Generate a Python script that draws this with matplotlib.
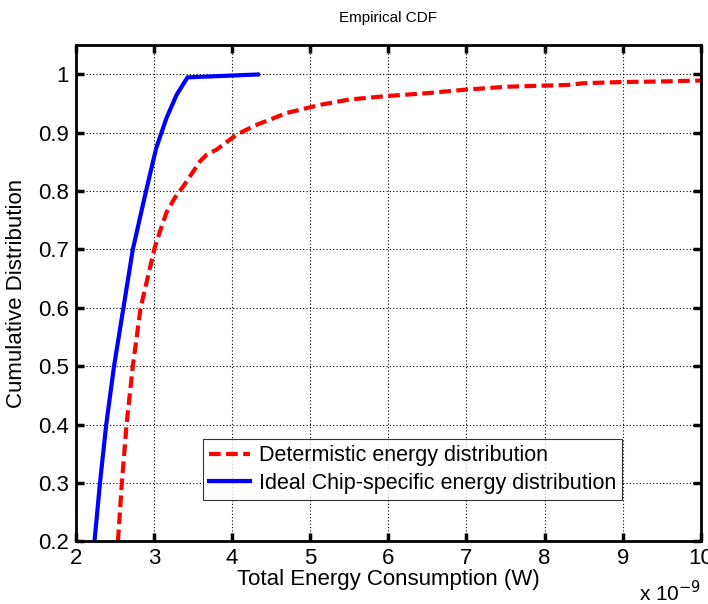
import matplotlib
matplotlib.use("Agg")
import matplotlib.pyplot as plt

plt.rcParams['font.family'] = ['Liberation Sans', 'DejaVu Sans']

# Energy values in units of 1e-9 W, with cumulative probabilities
det_energy = [2.54, 2.59, 2.65, 2.73, 2.83, 3.01, 3.08, 3.16, 3.27, 3.38, 3.48,
              3.59, 3.68, 3.80, 4.06, 4.32, 4.70, 5.13, 5.50, 5.98, 6.50,
              6.99, 7.52, 8.29, 8.50, 8.97, 9.50, 10.1]
det_cdf = [0.20, 0.30, 0.40, 0.50, 0.60, 0.703, 0.732, 0.763, 0.789, 0.809, 0.829,
           0.851, 0.863, 0.871, 0.897, 0.914, 0.934, 0.948, 0.957, 0.963, 0.968,
           0.974, 0.979, 0.982, 0.985, 0.987, 0.988, 0.990]

ideal_energy = [2.24, 2.31, 2.39, 2.49, 2.61, 2.73, 2.86, 2.95, 3.03, 3.16,
                3.29, 3.43, 4.33]
ideal_cdf = [0.20, 0.30, 0.40, 0.50, 0.60, 0.70, 0.777, 0.829, 0.874, 0.925,
             0.965, 0.995, 1.0]

x_ticks = [2, 3, 4, 5, 6, 7, 8, 9, 10]
y_ticks = [0.2, 0.3, 0.4, 0.5, 0.6, 0.7, 0.8, 0.9, 1.0]
y_tick_labels = ['0.2', '0.3', '0.4', '0.5', '0.6', '0.7', '0.8', '0.9', '1']

fig = plt.figure(figsize=(7.08, 6.04), dpi=100)
ax = fig.add_axes([0.107, 0.104, 0.883, 0.821])

ax.plot(det_energy, det_cdf, color='#ff0000', lw=3, linestyle=(0, (2.8, 1.3)),
        label='Determistic energy distribution')
ax.plot(ideal_energy, ideal_cdf, color='#0000ff', lw=3,
        label='Ideal Chip-specific energy distribution')

ax.set_xlim(2, 10)
ax.set_ylim(0.2, 1.05)
ax.set_xticks(x_ticks)
ax.set_yticks(y_ticks)
ax.set_yticklabels(y_tick_labels)
ax.grid(True, color='black', linestyle=(0, (1, 2)), lw=0.8)

ax.tick_params(direction='in', length=6, width=2.5, labelsize=16,
               top=True, right=True, pad=5)
for sp in ax.spines.values():
    sp.set_linewidth(2)

ax.set_xlabel('Total Energy Consumption (W)', fontsize=16, labelpad=0)
ax.set_ylabel('Cumulative Distribution', fontsize=16, labelpad=8)
ax.set_title('Empirical CDF', fontsize=11, pad=17)

ax.text(1.0, -0.078, r'x 10$^{-9}$', transform=ax.transAxes, fontsize=15,
        ha='right', va='top')

leg = ax.legend(loc='lower left', bbox_to_anchor=(0.203, 0.083), fontsize=15.5,
                frameon=True, fancybox=False, handlelength=1.9,
                borderpad=0.3, labelspacing=0.3, handletextpad=0.4,
                borderaxespad=0)
leg.get_frame().set_edgecolor('black')
leg.get_frame().set_linewidth(0.8)

fig.savefig('out.png', dpi=100)
